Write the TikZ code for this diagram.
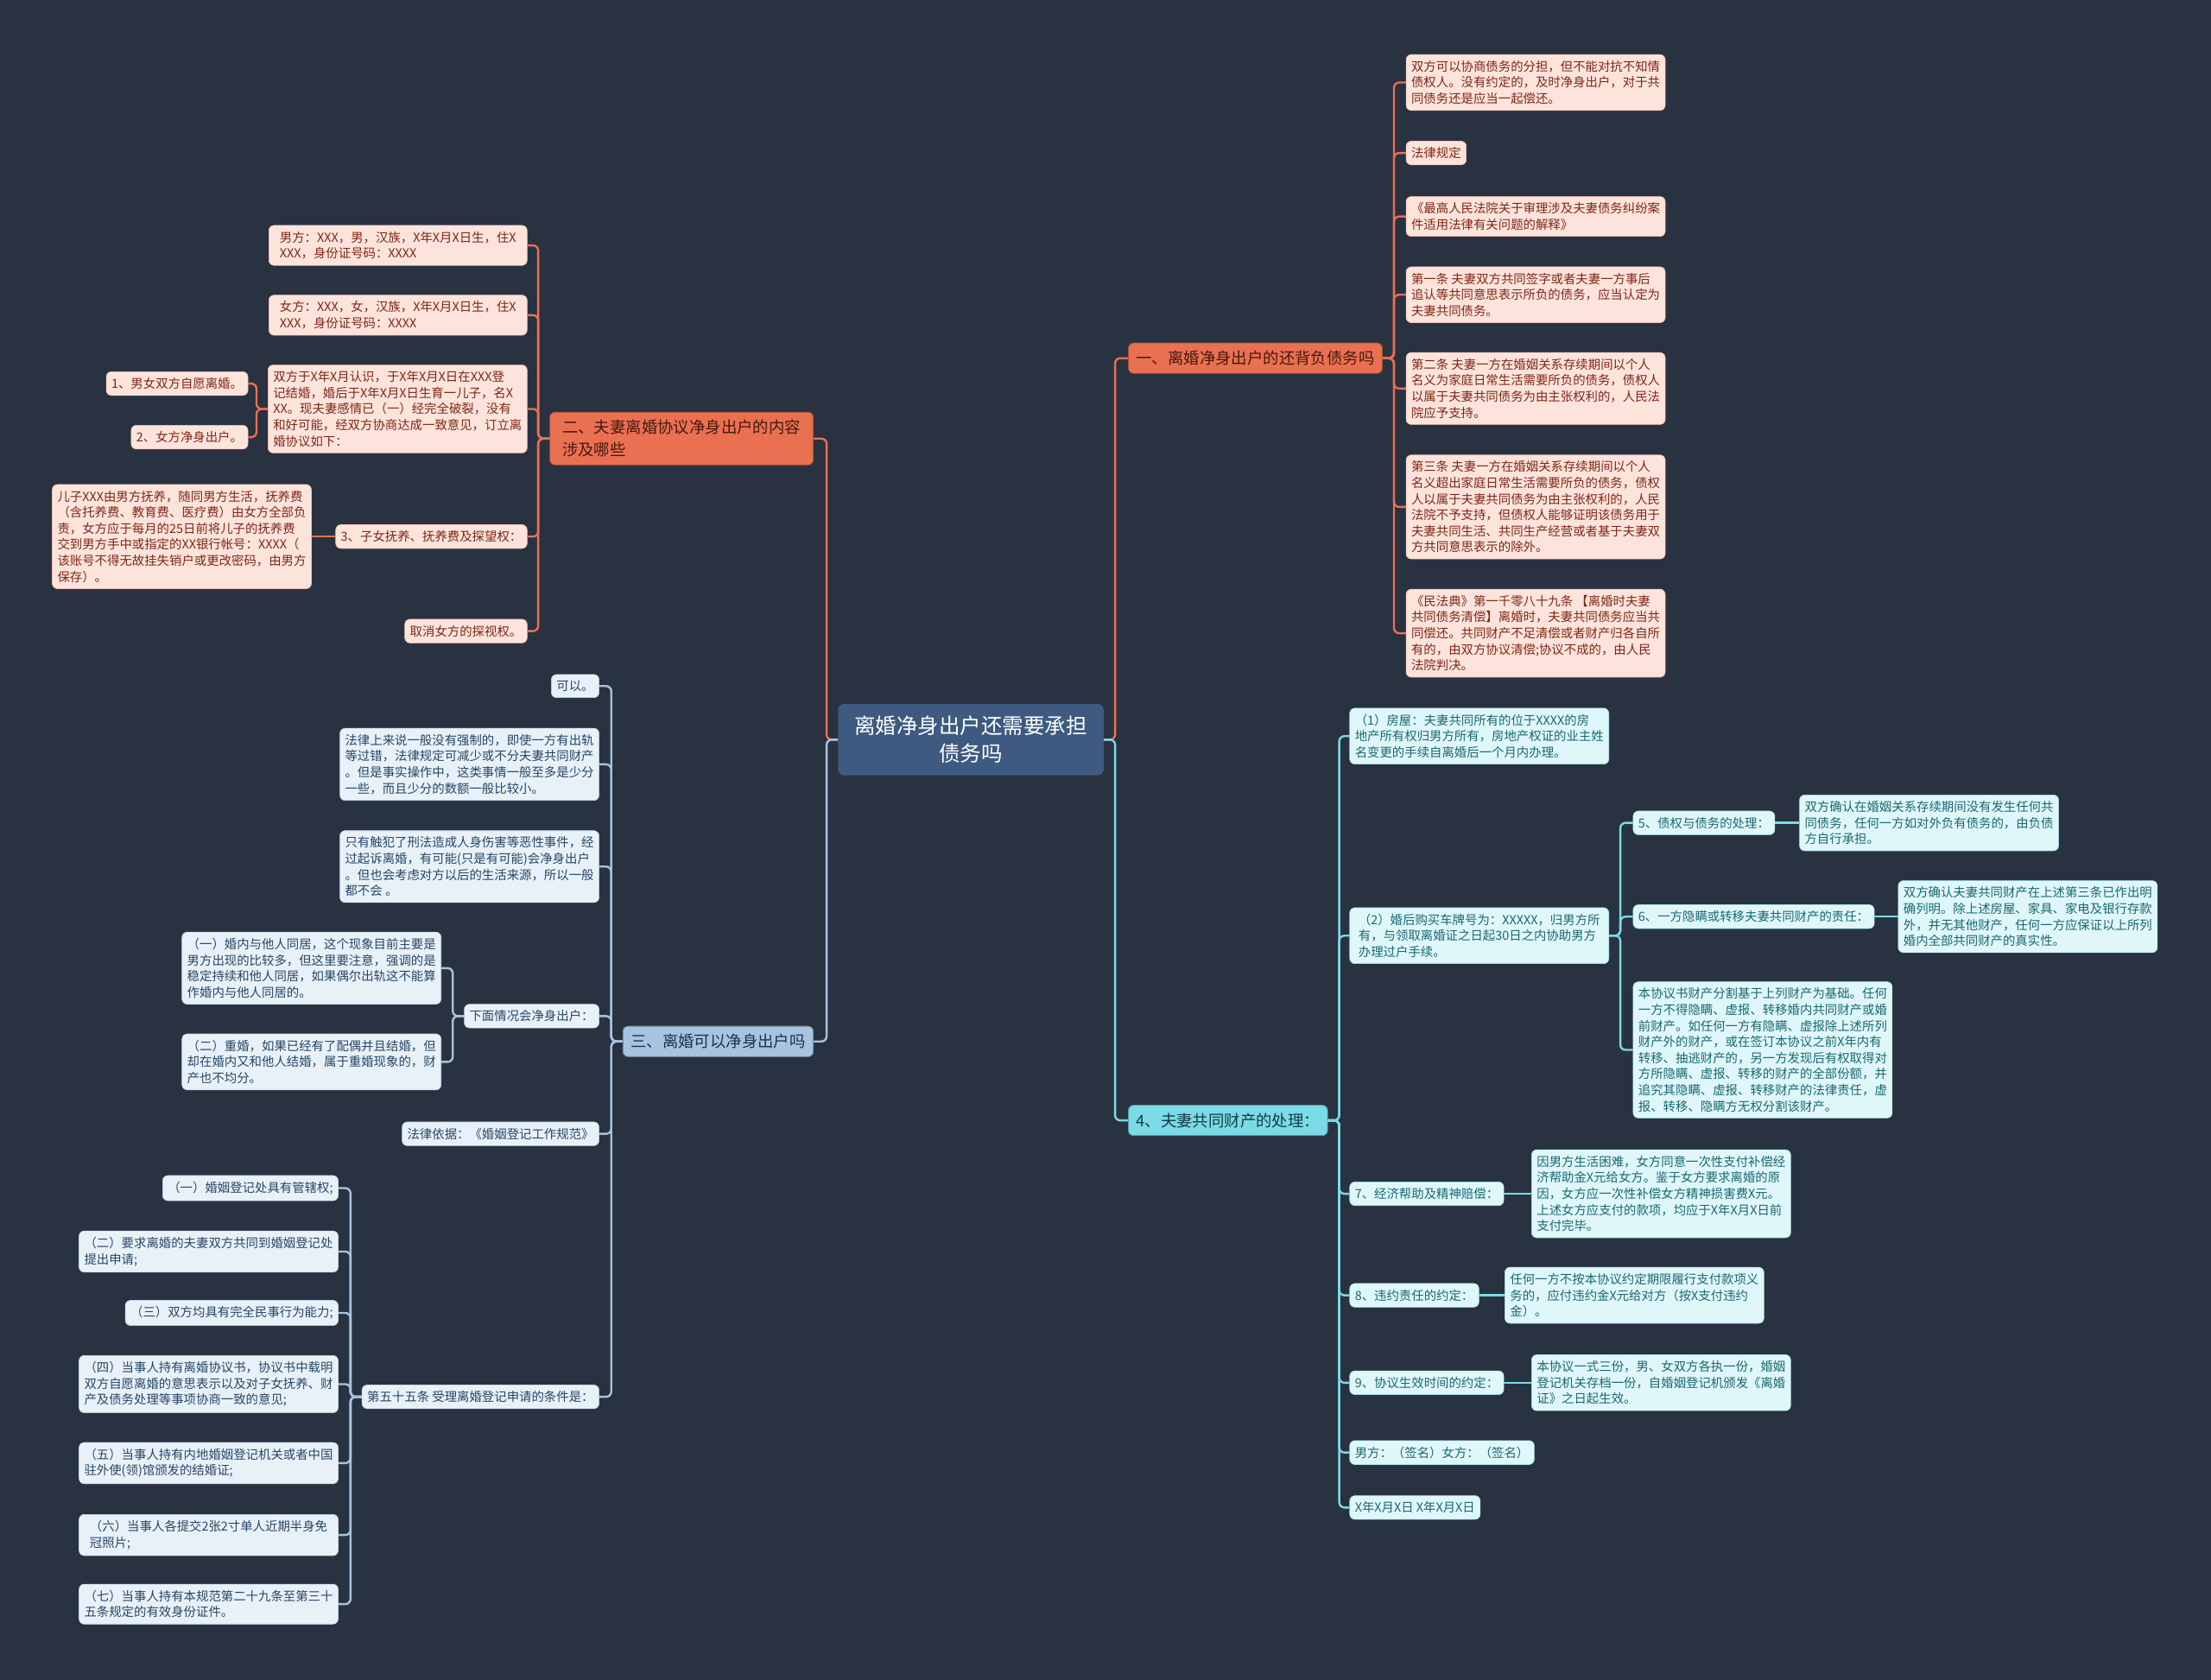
\documentclass[tikz,border=0pt]{standalone}
\usepackage{fontspec}
\newfontfamily\cjk{Noto Sans CJK SC}
\usepackage{tikz}
\usetikzlibrary{positioning}

\definecolor{bgcol}{RGB}{41,50,64}
\definecolor{rootcol}{RGB}{62,90,128}
\definecolor{orangecol}{RGB}{234,112,82}
\definecolor{bluecol}{RGB}{166,196,224}
\definecolor{cyancol}{RGB}{122,218,230}
\definecolor{pinkfill}{RGB}{252,228,220}
\definecolor{pinktext}{RGB}{128,38,22}
\definecolor{paleblue}{RGB}{233,241,248}
\definecolor{bluetext}{RGB}{38,70,102}
\definecolor{palecyan}{RGB}{224,247,249}
\definecolor{cyantext}{RGB}{24,104,114}

\begin{document}
\begin{tikzpicture}
[x=1.6327pt, y=-1.6327pt,
root/.style={fill=rootcol, text=white, rounded corners=7pt, align=center,
  inner xsep=19pt, inner ysep=14pt, font=\cjk\fontsize{24.5}{32}\selectfont},
branch/.style={rounded corners=6pt, align=left, inner xsep=9pt, inner ysep=9pt,
  line width=0.8pt, font=\cjk\fontsize{18.4}{26}\selectfont},
redbranch/.style={branch, fill=orangecol, draw=orangecol!70!black, text={rgb,255:red,70;green,25;blue,15}},
bluebranch/.style={branch, fill=bluecol, draw=bluecol!70!black, text={rgb,255:red,30;green,50;blue,75}},
cyanbranch/.style={branch, fill=cyancol, draw=cyancol!70!black, text={rgb,255:red,20;green,60;blue,70}},
leaf/.style={rounded corners=6pt, align=left, inner xsep=6pt, inner ysep=7pt,
  line width=0.6pt, font=\cjk\fontsize{14.4}{18.6}\selectfont},
pinkleaf/.style={leaf, fill=pinkfill, draw=orangecol!45, text=pinktext},
blueleaf/.style={leaf, fill=paleblue, draw=bluecol!70, text=bluetext},
cyanleaf/.style={leaf, fill=palecyan, draw=cyancol!70, text=cyantext},
oline/.style={draw=orangecol, line width=2.4pt, rounded corners=6pt},
bline/.style={draw=bluecol, line width=2.4pt, rounded corners=6pt},
cline/.style={draw=cyancol, line width=2.4pt, rounded corners=6pt},
toright/.style={to path={-- ++(8,0) |- (\tikztotarget)}},
toleft/.style={to path={-- ++(-8,0) |- (\tikztotarget)}},
redR/.style={oline, toright}, redL/.style={oline, toleft},
blueL/.style={bline, toleft}, cyanR/.style={cline, toright}
]
\useasboundingbox (0,0) rectangle (1568,1191);
\fill[bgcol] (0,0) rectangle (1568,1191);

% centre
\node[root] (root) at (688.5,524.5) {离婚净身出户还需要承担\\债务吗};

% one: debts
\node[redbranch, anchor=west] (debt) at (800,254) {一、离婚净身出户的还背负债务吗};
\node[pinkleaf, anchor=west] (debt1) at (997,58.5) {双方可以协商债务的分担，但不能对抗不知情\\债权人。没有约定的，及时净身出户，对于共\\同债务还是应当一起偿还。};
\node[pinkleaf, anchor=west] (debt2) at (997,108.5) {法律规定};
\node[pinkleaf, anchor=west] (debt3) at (997,153.5) {《最高人民法院关于审理涉及夫妻债务纠纷案\\件适用法律有关问题的解释》};
\node[pinkleaf, anchor=west] (debt4) at (997,209) {第一条 夫妻双方共同签字或者夫妻一方事后\\追认等共同意思表示所负的债务，应当认定为\\夫妻共同债务。};
\node[pinkleaf, anchor=west] (debt5) at (997,275.5) {第二条 夫妻一方在婚姻关系存续期间以个人\\名义为家庭日常生活需要所负的债务，债权人\\以属于夫妻共同债务为由主张权利的，人民法\\院应予支持。};
\node[pinkleaf, anchor=west] (debt6) at (997,359.5) {第三条 夫妻一方在婚姻关系存续期间以个人\\名义超出家庭日常生活需要所负的债务，债权\\人以属于夫妻共同债务为由主张权利的，人民\\法院不予支持，但债权人能够证明该债务用于\\夫妻共同生活、共同生产经营或者基于夫妻双\\方共同意思表示的除外。};
\node[pinkleaf, anchor=west] (debt7) at (997,449) {《民法典》第一千零八十九条 【离婚时夫妻\\共同债务清偿】离婚时，夫妻共同债务应当共\\同偿还。共同财产不足清偿或者财产归各自所\\有的，由双方协议清偿;协议不成的，由人民\\法院判决。};

% two: agreement content
\node[redbranch, anchor=east, minimum width=305pt] (content) at (577,311) {二、夫妻离婚协议净身出户的内容\\涉及哪些};
\node[pinkleaf, anchor=east, minimum width=299pt] (cont1) at (374,174) {男方：XXX，男，汉族，X年X月X日生，住X\\XXX，身份证号码：XXXX};
\node[pinkleaf, anchor=east, minimum width=299pt] (cont2) at (374,223.5) {女方：XXX，女，汉族，X年X月X日生，住X\\XXX，身份证号码：XXXX};
\node[pinkleaf, anchor=east, minimum width=299pt] (cont3) at (374,290) {双方于X年X月认识，于X年X月X日在XXX登\\记结婚，婚后于X年X月X日生育一儿子，名X\\XX。现夫妻感情已（一）经完全破裂，没有\\和好可能，经双方协商达成一致意见，订立离\\婚协议如下：};
\node[pinkleaf, anchor=east] (cont3a) at (176,272) {1、男女双方自愿离婚。};
\node[pinkleaf, anchor=east] (cont3b) at (176,310) {2、女方净身出户。};
\node[pinkleaf, anchor=east] (cont4) at (374,380.5) {3、子女抚养、抚养费及探望权：};
\node[pinkleaf, anchor=east] (cont4a) at (221,380.5) {儿子XXX由男方抚养，随同男方生活，抚养费\\（含托养费、教育费、医疗费）由女方全部负\\责，女方应于每月的25日前将儿子的抚养费\\交到男方手中或指定的XX银行帐号：XXXX（\\该账号不得无故挂失销户或更改密码，由男方\\保存）。};
\node[pinkleaf, anchor=east] (cont5) at (374,447.5) {取消女方的探视权。};

% three: is it possible
\node[bluebranch, anchor=east] (poss) at (577,738.5) {三、离婚可以净身出户吗};
\node[blueleaf, anchor=east] (poss1) at (425,486.5) {可以。};
\node[blueleaf, anchor=east] (poss2) at (425,542) {法律上来说一般没有强制的，即使一方有出轨\\等过错，法律规定可减少或不分夫妻共同财产\\。但是事实操作中，这类事情一般至多是少分\\一些，而且少分的数额一般比较小。};
\node[blueleaf, anchor=east] (poss3) at (425,614.5) {只有触犯了刑法造成人身伤害等恶性事件，经\\过起诉离婚，有可能(只是有可能)会净身出户\\。但也会考虑对方以后的生活来源，所以一般\\都不会 。};
\node[blueleaf, anchor=east] (poss4) at (425,720.5) {下面情况会净身出户：};
\node[blueleaf, anchor=east] (poss4a) at (313,686.5) {（一）婚内与他人同居，这个现象目前主要是\\男方出现的比较多，但这里要注意，强调的是\\稳定持续和他人同居，如果偶尔出轨这不能算\\作婚内与他人同居的。};
\node[blueleaf, anchor=east] (poss4b) at (313,753) {（二）重婚，如果已经有了配偶并且结婚，但\\却在婚内又和他人结婚，属于重婚现象的，财\\产也不均分。};
\node[blueleaf, anchor=east] (poss5) at (425,804) {法律依据：《婚姻登记工作规范》};
\node[blueleaf, anchor=east] (poss6) at (425,990.5) {第五十五条 受理离婚登记申请的条件是：};
\node[blueleaf, anchor=east] (cond1) at (240,842.5) {（一）婚姻登记处具有管辖权;};
\node[blueleaf, anchor=east] (cond2) at (240,887.5) {（二）要求离婚的夫妻双方共同到婚姻登记处\\提出申请;};
\node[blueleaf, anchor=east] (cond3) at (240,931) {（三）双方均具有完全民事行为能力;};
\node[blueleaf, anchor=east] (cond4) at (240,981.5) {（四）当事人持有离婚协议书，协议书中载明\\双方自愿离婚的意思表示以及对子女抚养、财\\产及债务处理等事项协商一致的意见;};
\node[blueleaf, anchor=east] (cond5) at (240,1037.5) {（五）当事人持有内地婚姻登记机关或者中国\\驻外使(领)馆颁发的结婚证;};
\node[blueleaf, anchor=east, minimum width=300pt] (cond6) at (240,1088.5) {（六）当事人各提交2张2寸单人近期半身免\\冠照片;};
\node[blueleaf, anchor=east] (cond7) at (240,1137.5) {（七）当事人持有本规范第二十九条至第三十\\五条规定的有效身份证件。};

% four: joint property
\node[cyanbranch, anchor=west] (prop) at (800,794.5) {4、夫妻共同财产的处理：};
\node[cyanleaf, anchor=west] (prop1) at (957,522) {（1）房屋：夫妻共同所有的位于XXXX的房\\地产所有权归男方所有，房地产权证的业主姓\\名变更的手续自离婚后一个月内办理。};
\node[cyanleaf, anchor=west, minimum width=300pt] (prop2) at (957,663.5) {（2）婚后购买车牌号为：XXXXX，归男方所\\有，与领取离婚证之日起30日之内协助男方\\办理过户手续。};
\node[cyanleaf, anchor=west] (prop2a) at (1158,583.5) {5、债权与债务的处理：};
\node[cyanleaf, anchor=west] (prop2aa) at (1276,583.5) {双方确认在婚姻关系存续期间没有发生任何共\\同债务，任何一方如对外负有债务的，由负债\\方自行承担。};
\node[cyanleaf, anchor=west] (prop2b) at (1158,650) {6、一方隐瞒或转移夫妻共同财产的责任：};
\node[cyanleaf, anchor=west] (prop2bb) at (1346,650) {双方确认夫妻共同财产在上述第三条已作出明\\确列明。除上述房屋、家具、家电及银行存款\\外，并无其他财产，任何一方应保证以上所列\\婚内全部共同财产的真实性。};
\node[cyanleaf, anchor=west] (prop2c) at (1158,744.5) {本协议书财产分割基于上列财产为基础。任何\\一方不得隐瞒、虚报、转移婚内共同财产或婚\\前财产。如任何一方有隐瞒、虚报除上述所列\\财产外的财产，或在签订本协议之前X年内有\\转移、抽逃财产的，另一方发现后有权取得对\\方所隐瞒、虚报、转移的财产的全部份额，并\\追究其隐瞒、虚报、转移财产的法律责任，虚\\报、转移、隐瞒方无权分割该财产。};
\node[cyanleaf, anchor=west] (prop3) at (957,846.5) {7、经济帮助及精神赔偿：};
\node[cyanleaf, anchor=west] (prop3a) at (1086,846.5) {因男方生活困难，女方同意一次性支付补偿经\\济帮助金X元给女方。鉴于女方要求离婚的原\\因，女方应一次性补偿女方精神损害费X元。\\上述女方应支付的款项，均应于X年X月X日前\\支付完毕。};
\node[cyanleaf, anchor=west] (prop4) at (957,918.5) {8、违约责任的约定：};
\node[cyanleaf, anchor=west] (prop4a) at (1067,918.5) {任何一方不按本协议约定期限履行支付款项义\\务的，应付违约金X元给对方（按X支付违约\\金）。};
\node[cyanleaf, anchor=west] (prop5) at (957,980.5) {9、协议生效时间的约定：};
\node[cyanleaf, anchor=west] (prop5a) at (1086,980.5) {本协议一式三份，男、女双方各执一份，婚姻\\登记机关存档一份，自婚姻登记机颁发《离婚\\证》之日起生效。};
\node[cyanleaf, anchor=west] (prop6) at (957,1030) {男方：（签名）女方：（签名）};
\node[cyanleaf, anchor=west] (prop7) at (957,1069) {X年X月X日 X年X月X日};

% connectors
\path
  (root.east) edge[redR] (debt.west)
              edge[cyanR] (prop.west)
  (root.west) edge[redL] (content.east)
              edge[blueL] (poss.east)
  (debt.east) edge[redR] (debt1.west) edge[redR] (debt2.west) edge[redR] (debt3.west)
              edge[redR] (debt4.west) edge[redR] (debt5.west) edge[redR] (debt6.west)
              edge[redR] (debt7.west)
  (content.west) edge[redL] (cont1.east) edge[redL] (cont2.east) edge[redL] (cont3.east)
                 edge[redL] (cont4.east) edge[redL] (cont5.east)
  (cont3.west) edge[redL] (cont3a.east) edge[redL] (cont3b.east)
  (cont4.west) edge[oline] (cont4a.east)
  (poss.west) edge[blueL] (poss1.east) edge[blueL] (poss2.east) edge[blueL] (poss3.east)
              edge[blueL] (poss4.east) edge[blueL] (poss5.east) edge[blueL] (poss6.east)
  (poss4.west) edge[blueL] (poss4a.east) edge[blueL] (poss4b.east)
  (poss6.west) edge[blueL] (cond1.east) edge[blueL] (cond2.east) edge[blueL] (cond3.east)
               edge[blueL] (cond4.east) edge[blueL] (cond5.east) edge[blueL] (cond6.east)
               edge[blueL] (cond7.east)
  (prop.east) edge[cyanR] (prop1.west) edge[cyanR] (prop2.west) edge[cyanR] (prop3.west)
              edge[cyanR] (prop4.west) edge[cyanR] (prop5.west) edge[cyanR] (prop6.west)
              edge[cyanR] (prop7.west)
  (prop2.east) edge[cyanR] (prop2a.west) edge[cyanR] (prop2b.west) edge[cyanR] (prop2c.west)
  (prop2a.east) edge[cline] (prop2aa.west)
  (prop2b.east) edge[cline] (prop2bb.west)
  (prop3.east) edge[cline] (prop3a.west)
  (prop4.east) edge[cline] (prop4a.west)
  (prop5.east) edge[cline] (prop5a.west);
\end{tikzpicture}
\end{document}
